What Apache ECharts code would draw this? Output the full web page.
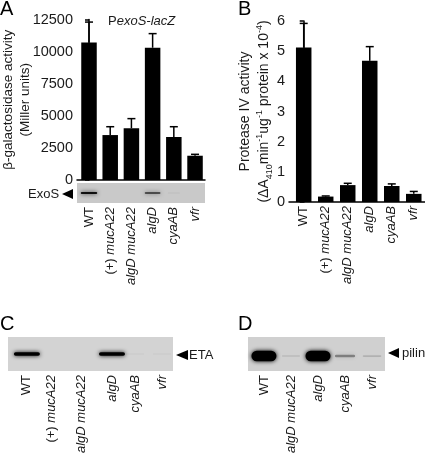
<!DOCTYPE html>
<html>
<head>
<meta charset="utf-8">
<script src="https://cdn.jsdelivr.net/npm/echarts@6/dist/echarts.min.js"></script>
<style>
  html, body { margin: 0; padding: 0; background: #fff; }
  #chart { width: 425px; height: 455px; }
</style>
</head>
<body>
<div id="chart"></div>
<script>
// strain labels, italic parts marked with rich tags
var strainsFull = ['WT', '(+) {i|mucA22}', '{i|algD mucA22}', '{i|algD}', '{i|cyaAB}', '{i|vfr}']
var strainsPilin = ['WT', '{i|algD mucA22}', '{i|algD}', '{i|cyaAB}', '{i|vfr}']

// panel A, Miller units
var exosValues = [10700, 3500, 4030, 10300, 3350, 1890]
var exosErrorTops = [12300, 4150, 4780, 11400, 4150, 2000]
// panel B
var proteaseValues = [5.12, 0.18, 0.56, 4.68, 0.53, 0.27]
var proteaseErrorTops = [5.92, 0.2, 0.62, 5.15, 0.6, 0.35]

// blot band strength per lane, 0 to 1
var exosBands = [0.9, 0, 0, 0.75, 0.06, 0]
var etaBands = [1, 0, 0, 1, 0.03, 0.03]
var pilinBands = [1, 0.1, 1, 0.36, 0.14]
// the lanes in panel C are not evenly spaced
var etaLanes = [0, 0.9, 2, 3.15, 4, 5]

var font = '"Liberation Sans", Arial, sans-serif'
var italic = { fontStyle: 'italic', fontFamily: font, fontSize: 13, color: '#1a1a1a' }

function labelAxis(gridIndex, min, max, lanes, names, margin) {
  return {
    type: 'value',
    gridIndex: gridIndex,
    min: min,
    max: max,
    splitLine: { show: false },
    axisLine: { onZero: false, lineStyle: { color: '#000', width: 1.5 } },
    axisTick: { show: false },
    axisLabel: {
      show: !!names,
      customValues: lanes,
      rotate: 90,
      margin: margin,
      fontFamily: font,
      fontSize: 13,
      color: '#1a1a1a',
      formatter: function (v) { return names ? names[lanes.indexOf(v)] : '' },
      rich: { i: italic }
    }
  }
}

function hiddenY(gridIndex) {
  return { type: 'value', gridIndex: gridIndex, min: 0, max: 1, show: false, splitLine: { show: false } }
}

function valueAxis(gridIndex, max, interval, name, gap, rich) {
  return {
    type: 'value',
    gridIndex: gridIndex,
    min: 0,
    max: max,
    interval: interval,
    splitLine: { show: false },
    axisLine: { show: true, lineStyle: { color: '#000', width: 1.5 } },
    axisTick: { show: true, length: 4, lineStyle: { color: '#000', width: 1.5 } },
    axisLabel: {
      fontFamily: font, fontSize: 14.5, color: '#1a1a1a', margin: 4,
      formatter: function (v) { return String(v) }
    },
    name: name,
    nameLocation: 'middle',
    nameRotate: 90,
    nameGap: gap,
    nameMoveOverlap: false,
    nameTextStyle: { fontFamily: font, fontSize: 13.5, color: '#1a1a1a', lineHeight: 17, rich: rich }
  }
}

function barSeries(axisIndex, values, width) {
  return {
    type: 'bar',
    xAxisIndex: axisIndex,
    yAxisIndex: axisIndex,
    barWidth: width,
    itemStyle: { color: '#000' },
    data: values.map(function (v, i) { return [i, v] }),
    silent: true
  }
}

function errorSeries(axisIndex, values, tops) {
  return {
    type: 'custom',
    xAxisIndex: axisIndex,
    yAxisIndex: axisIndex,
    silent: true,
    data: values.map(function (v, i) { return [i, v, tops[i]] }),
    renderItem: function (params, api) {
      var low = api.coord([api.value(0), api.value(1)])
      var high = api.coord([api.value(0), api.value(2)])
      var style = { stroke: '#000', lineWidth: 1.5, fill: null }
      return {
        type: 'group',
        children: [
          { type: 'line', shape: { x1: low[0], y1: low[1], x2: high[0], y2: high[1] }, style: style },
          { type: 'line', shape: { x1: high[0] - 4, y1: high[1], x2: high[0] + 4, y2: high[1] }, style: style }
        ]
      }
    }
  }
}

function bandSeries(axisIndex, lanes, bands, level, width, thin, thick) {
  return {
    type: 'custom',
    xAxisIndex: axisIndex,
    yAxisIndex: axisIndex,
    silent: true,
    data: bands.map(function (b, i) { return [lanes[i], b] }),
    renderItem: function (params, api) {
      var strength = api.value(1)
      if (!strength) return null
      var c = api.coord([api.value(0), level])
      var h = thin + thick * strength * strength
      var w = width * (0.7 + 0.3 * strength)
      return {
        type: 'rect',
        shape: { x: c[0] - w / 2, y: c[1] - h / 2, width: w, height: h, r: h / 2 },
        style: {
          fill: 'rgba(0,0,0,' + strength + ')',
          shadowBlur: 4,
          shadowColor: 'rgba(0,0,0,' + strength + ')'
        }
      }
    }
  }
}

function letter(text, x, y) {
  return { type: 'text', x: x, y: y, style: { text: text, fontFamily: font, fontSize: 20, fill: '#000' } }
}

function arrow(x, y, dir, w) {
  return {
    type: 'polygon',
    shape: { points: [[x, y - 5], [x, y + 5], [x + dir * w, y]] },
    style: { fill: '#000' }
  }
}

function note(text, x, y, size, rich) {
  return {
    type: 'text',
    x: x,
    y: y,
    style: {
      text: text, rich: rich, fontFamily: font, fontSize: size, fill: '#1a1a1a',
      verticalAlign: 'middle', align: 'left'
    }
  }
}

var lanes6 = [0, 1, 2, 3, 4, 5]
var lanes5 = [0, 1, 2, 3, 4]

var chart = echarts.init(document.getElementById('chart'))
chart.setOption({
  animation: false,
  backgroundColor: '#fff',
  grid: [
    { outerBoundsMode: 'none', left: 77, top: 19.5, width: 128, height: 160.5 },
    { outerBoundsMode: 'none', left: 77, top: 183, width: 128, height: 20, show: true, backgroundColor: '#c9c9c9', borderWidth: 0 },
    { outerBoundsMode: 'none', left: 289, top: 21, width: 136, height: 181 },
    { outerBoundsMode: 'none', left: 8, top: 337, width: 165, height: 34, show: true, backgroundColor: '#d3d3d3', borderWidth: 0 },
    { outerBoundsMode: 'none', left: 248, top: 337, width: 137, height: 34, show: true, backgroundColor: '#d0d0d0', borderWidth: 0 }
  ],
  xAxis: [
    labelAxis(0, -0.566, 5.47, lanes6, null, 0),
    Object.assign(labelAxis(1, -0.566, 5.47, lanes6, strainsFull, 4), { axisLine: { show: false } }),
    labelAxis(2, -0.668, 5.51, lanes6, strainsFull, 4),
    Object.assign(labelAxis(3, -0.7, 5.41, etaLanes, strainsFull, 4), { axisLine: { show: false } }),
    Object.assign(labelAxis(4, -0.59, 4.48, lanes5, strainsPilin, 4), { axisLine: { show: false } })
  ],
  yAxis: [
    valueAxis(0, 12500, 2500, 'β-galactosidase activity\n(Miller units)', 43, {}),
    hiddenY(1),
    valueAxis(2, 6, 1, '{p|Protease IV activity}\n{p|(ΔA}{s|410}{p|min}{u|-1}{p|ug}{u|-1}{p| protein x 10}{u|-4}{p|)}', 15, {
      p: { fontFamily: font, fontSize: 14, color: '#1a1a1a', lineHeight: 19 },
      s: { fontFamily: font, fontSize: 9, color: '#1a1a1a', verticalAlign: 'bottom', lineHeight: 19 },
      u: { fontFamily: font, fontSize: 9, color: '#1a1a1a', verticalAlign: 'top', lineHeight: 19 }
    }),
    hiddenY(3),
    hiddenY(4)
  ],
  series: [
    errorSeries(0, exosValues, exosErrorTops),
    barSeries(0, exosValues, 15.5),
    bandSeries(1, lanes6, exosBands, 0.5, 17, 1, 1),
    errorSeries(2, proteaseValues, proteaseErrorTops),
    barSeries(2, proteaseValues, 15.5),
    bandSeries(3, etaLanes, etaBands, 0.5, 26, 1.5, 2),
    bandSeries(4, lanes5, pilinBands, 0.44, 25, 1.5, 9)
  ],
  graphic: [
    letter('A', 0, -1),
    letter('B', 238, -1),
    letter('C', 0, 314),
    letter('D', 238, 314),
    note('P{i|exoS-lacZ}', 108, 21, 13, { i: italic }),
    note('ExoS', 28, 194, 13),
    arrow(73, 194, -1, 11),
    arrow(188, 355, -1, 12),
    note('ETA', 189, 355, 13),
    arrow(399, 353, -1, 11),
    note('pilin', 402, 353, 13)
  ]
})
</script>
</body>
</html>
